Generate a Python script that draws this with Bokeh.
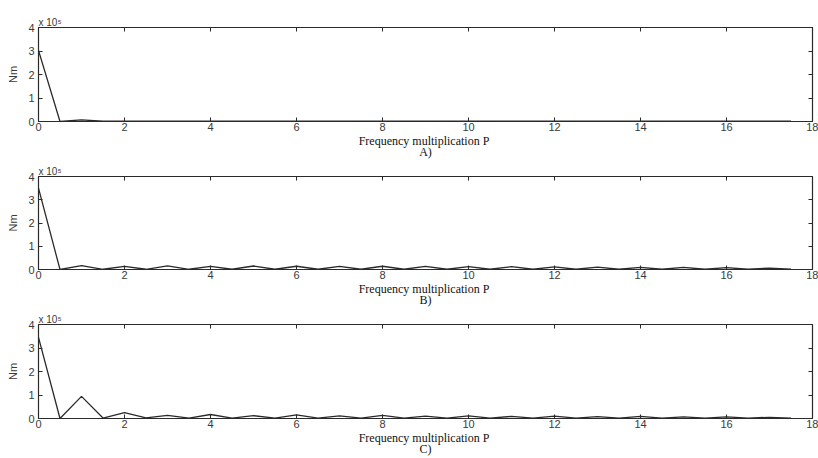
from bokeh.plotting import figure
from bokeh.layouts import column
from bokeh.models import LinearAxis, Range1d, FixedTicker
from bokeh.embed import file_html
from bokeh.resources import INLINE

# ---- data (torque amplitude in units of 1e5 N*m) ----
freq = [0.0, 0.5, 1.0, 1.5, 2.0, 2.5, 3.0, 3.5, 4.0, 4.5, 5.0, 5.5,
        6.0, 6.5, 7.0, 7.5, 8.0, 8.5, 9.0, 9.5, 10.0, 10.5, 11.0, 11.5,
        12.0, 12.5, 13.0, 13.5, 14.0, 14.5, 15.0, 15.5, 16.0, 16.5, 17.0, 17.5]
torque_a = [3.02, 0.0, 0.07, 0.01, 0.02, 0.01, 0.01, 0.01, 0.01, 0.01, 0.01, 0.01,
            0.02, 0.02, 0.02, 0.02, 0.02, 0.02, 0.02, 0.02, 0.02, 0.02, 0.02, 0.02,
            0.02, 0.02, 0.02, 0.02, 0.02, 0.02, 0.02, 0.02, 0.02, 0.02, 0.02, 0.01]
torque_b = [3.5, 0.0, 0.17, 0.01, 0.13, 0.01, 0.16, 0.01, 0.13, 0.01, 0.15, 0.01,
            0.14, 0.01, 0.13, 0.01, 0.14, 0.01, 0.13, 0.01, 0.12, 0.01, 0.12, 0.01,
            0.11, 0.01, 0.10, 0.01, 0.09, 0.01, 0.09, 0.01, 0.08, 0.01, 0.06, 0.01]
torque_c = [3.45, 0.0, 0.94, 0.02, 0.25, 0.03, 0.13, 0.02, 0.17, 0.02, 0.12, 0.02,
            0.15, 0.02, 0.11, 0.02, 0.13, 0.02, 0.10, 0.02, 0.11, 0.02, 0.09, 0.02,
            0.10, 0.02, 0.08, 0.02, 0.09, 0.02, 0.07, 0.02, 0.07, 0.02, 0.05, 0.01]
x_ticks = [0, 2, 4, 6, 8, 10, 12, 14, 16, 18]
y_ticks = [0, 1, 2, 3, 4]
panel_tags = ["A)", "B)", "C)"]
x_title = "Frequency multiplication  P"
y_title = "Nm"
scale_text = "x 10\u2075"

INK = "#2a2a2a"
TXT = "#3a3a3a"

def make_panel(ys, tag, fh, top, bottom):
    p = figure(frame_width=774, frame_height=fh, output_backend="svg",
               toolbar_location=None,
               x_range=Range1d(0, 18), y_range=Range1d(0, 4),
               min_border_left=38, min_border_right=6,
               min_border_top=top, min_border_bottom=bottom,
               x_axis_label=x_title + "\n" + tag, y_axis_label=y_title)
    p.grid.visible = False
    p.outline_line_color = INK
    p.outline_line_width = 1.2
    p.background_fill_color = "white"
    p.border_fill_color = "white"
    p.line(freq, ys, line_color=INK, line_width=1.3)

    p.title.text = scale_text
    p.title.align = "left"
    p.title.text_font = "Liberation Sans"
    p.title.text_font_style = "normal"
    p.title.text_font_size = "10px"
    p.title.text_color = TXT
    p.title.standoff = 0
    p.title.offset = 0

    for ax in (p.xaxis[0], p.yaxis[0]):
        ax.major_tick_in = 4
        ax.major_tick_out = 0
        ax.minor_tick_in = 0
        ax.minor_tick_out = 0
        ax.axis_line_color = INK
        ax.major_tick_line_color = INK
        ax.major_label_text_font = "Liberation Sans"
        ax.major_label_text_font_size = "11px"
        ax.major_label_text_color = TXT
    p.xaxis[0].ticker = FixedTicker(ticks=x_ticks)
    p.yaxis[0].ticker = FixedTicker(ticks=y_ticks)
    p.xaxis[0].major_label_standoff = 1
    p.yaxis[0].major_label_standoff = 4
    p.xaxis[0].axis_label_text_font = "Liberation Serif"
    p.xaxis[0].axis_label_text_font_style = "normal"
    p.xaxis[0].axis_label_text_font_size = "12px"
    p.xaxis[0].axis_label_text_color = "#111111"
    p.xaxis[0].axis_label_text_line_height = 0.85
    p.xaxis[0].axis_label_standoff = 0
    p.yaxis[0].axis_label_text_font = "Liberation Sans"
    p.yaxis[0].axis_label_text_font_style = "normal"
    p.yaxis[0].axis_label_text_font_size = "11px"
    p.yaxis[0].axis_label_text_color = TXT
    p.yaxis[0].axis_label_standoff = 6

    # mirrored ticks (top / right), no labels
    rax = LinearAxis(ticker=FixedTicker(ticks=y_ticks),
                     major_label_overrides={t: "" for t in y_ticks})
    tax = LinearAxis(ticker=FixedTicker(ticks=x_ticks),
                     major_label_overrides={t: "" for t in x_ticks})
    for ax in (rax, tax):
        ax.major_tick_in = 4
        ax.major_tick_out = 0
        ax.minor_tick_in = 0
        ax.minor_tick_out = 0
        ax.axis_line_color = INK
        ax.major_tick_line_color = INK
        ax.major_label_standoff = 0
    p.add_layout(rax, "right")
    p.add_layout(tax, "above")
    return p

pa = make_panel(torque_a, panel_tags[0], 94, 27, 30)
pb = make_panel(torque_b, panel_tags[1], 93, 14, 30)
pc = make_panel(torque_c, panel_tags[2], 94, 14, 30)

layout = column(pa, pb, pc, spacing=0)
open("out.html", "w").write(file_html(layout, INLINE))
